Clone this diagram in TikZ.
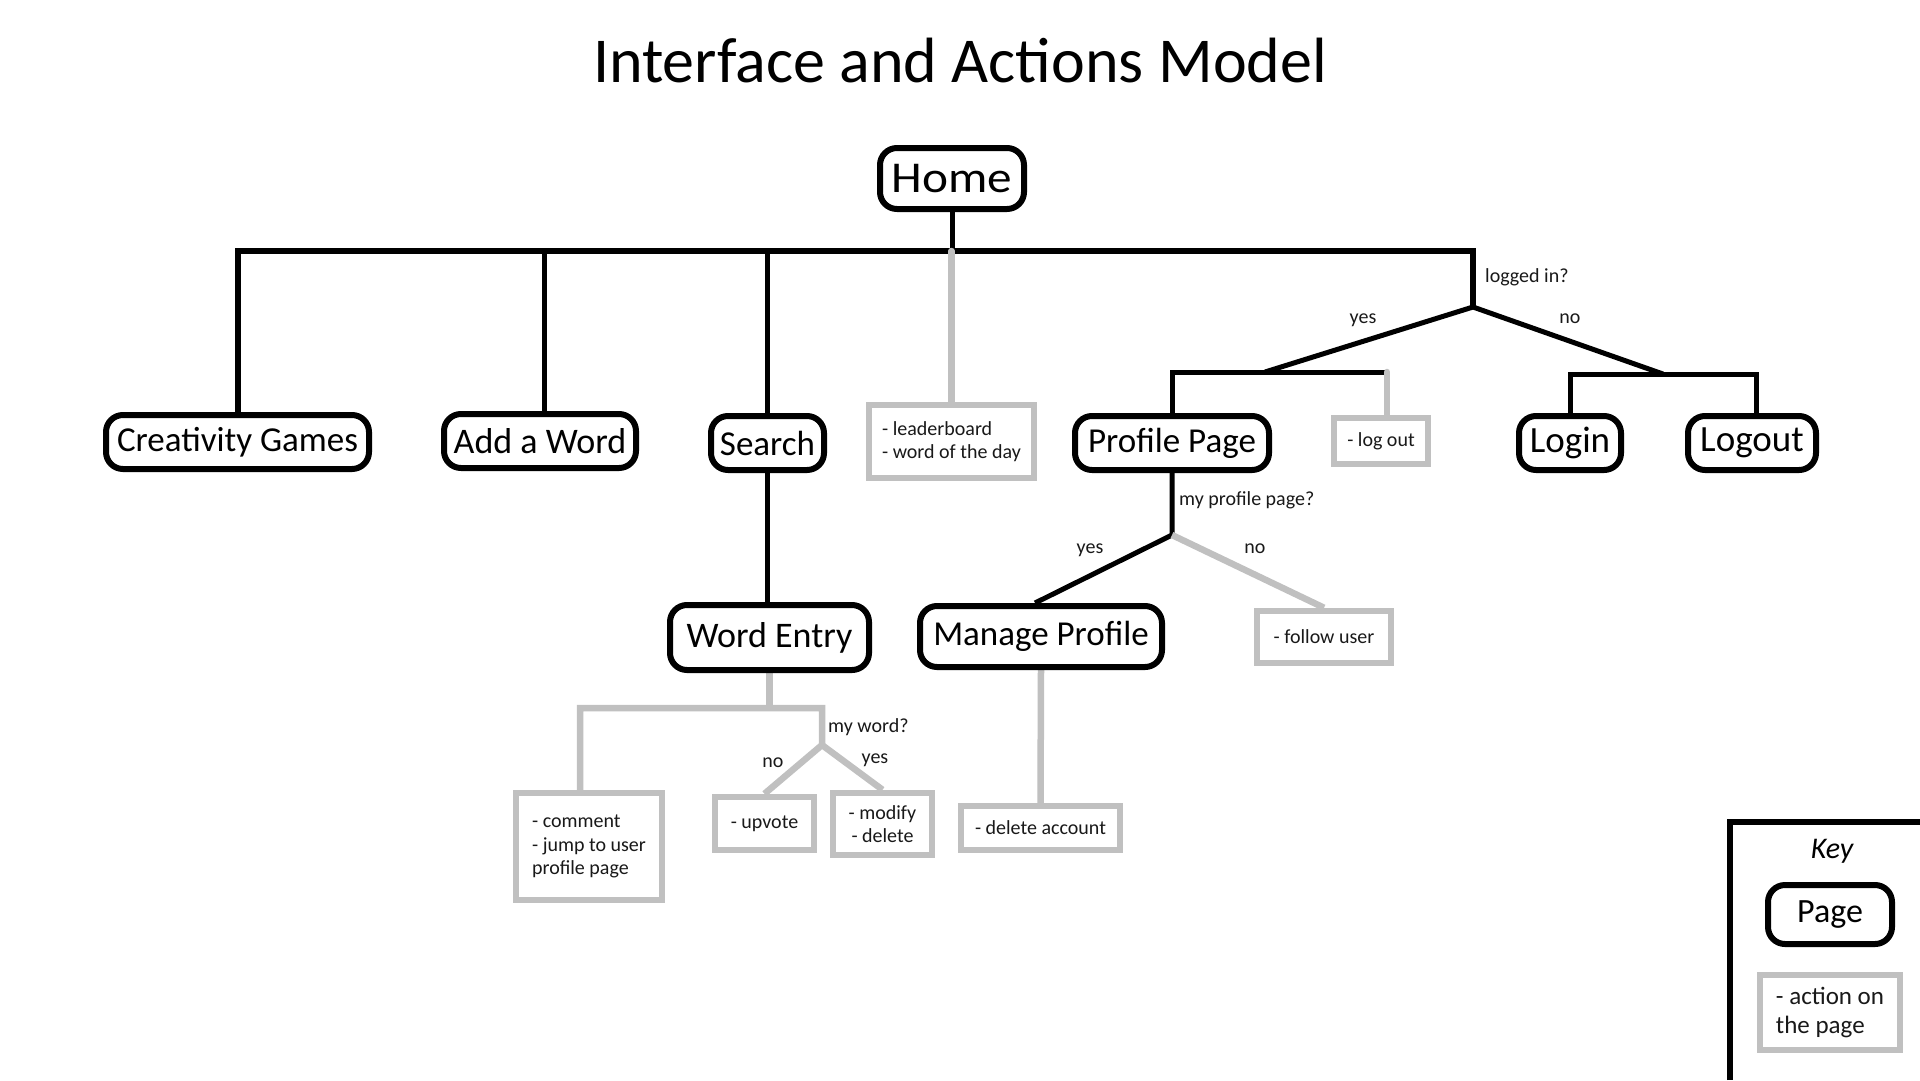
\documentclass[tikz,border=0pt]{standalone}
\usepackage{fontspec}
\setmainfont{Carlito}
\usepackage{graphicx}
\usetikzlibrary{calc}
\definecolor{lgray}{RGB}{192,192,192}
\definecolor{txt}{RGB}{25,25,25}
\newcommand{\fsz}[2]{\fontsize{#1}{#2}\selectfont}
\pgfdeclarelayer{background}
\pgfsetlayers{background,main}
\tikzset{
  pagebox/.style={draw=black, line width=6pt, rounded corners=17pt, fill=white, inner sep=0pt, text=black, font=\fsz{35}{40}},
  actbox/.style={draw=lgray, line width=6.5pt, fill=white, inner sep=0pt, align=left, font=\fsz{20}{23.5}, text=txt},
  actboxc/.style={actbox, align=center},
  blk/.style={draw=black, line width=5pt},
  barline/.style={draw=black, line width=6pt},
  gln/.style={draw=lgray, line width=6.5pt},
  gcap/.style={gln, line cap=round},
  lbl/.style={font=\fsz{20}{24}, inner sep=0pt, text=txt},
}
\begin{document}
\begin{tikzpicture}[x=1pt,y=-1pt]
\useasboundingbox (0,0) rectangle (1920,1080);

% title
\node[anchor=base, font=\fsz{64}{70}, inner sep=0pt] (title) at (960,82) {Interface and Actions Model};

% pages
\node[pagebox, minimum width=144, minimum height=61, font=\fsz{44}{50}] (home) at (952,178.5) {\scalebox{1.12}[1]{Home}};
\node[pagebox, minimum width=263, minimum height=54] (crea) at (237.5,442) {Creativity Games};
\node[pagebox, minimum width=192, minimum height=54, font=\fsz{36}{40}] (addw) at (540,441) {Add a Word};
\node[pagebox, minimum width=113, minimum height=54] (srch) at (767.5,443) {Search};
\node[pagebox, minimum width=194, minimum height=54] (prof) at (1172,443) {Profile Page};
\node[pagebox, minimum width=102, minimum height=54, font=\fsz{37}{40}] (login) at (1570,443) {Login};
\node[pagebox, minimum width=128, minimum height=54, font=\fsz{37}{40}] (logout) at (1752,443) {Logout};
\node[pagebox, minimum width=199, minimum height=65, font=\fsz{36}{40}] (went) at (769.5,637.5) {Word Entry};
\node[pagebox, minimum width=242, minimum height=61] (mp) at (1041,636.5) {Manage Profile};

% actions
\node[actbox, minimum width=165, minimum height=73] (lead) at (951.5,441.5) {- leaderboard\\- word of the day};
\node[actbox, minimum width=94, minimum height=46] (lout) at (1381,441) {- log out};
\node[actbox, minimum width=134, minimum height=52] (fu) at (1324,637) {- follow user};
\node[actbox, minimum width=146, minimum height=107] (cmt) at (589,846.5) {- comment\\- jump to user\\profile page};
\node[actbox, minimum width=99, minimum height=53] (upv) at (764.5,823.5) {- upvote};
\node[actboxc, minimum width=99, minimum height=62] (mod) at (882.5,824) {- modify\\- delete};
\node[actbox, minimum width=159, minimum height=44] (da) at (1040.5,828) {- delete account};

% labels
\node[lbl, anchor=base west] (lq1) at (1485,282) {logged in?};
\node[lbl, anchor=base] (ly1) at (1363,323) {yes};
\node[lbl, anchor=base] (ln1) at (1570,323) {no};
\node[lbl, anchor=base west] (lq2) at (1179,505) {my profile page?};
\node[lbl, anchor=base] (ly2) at (1090,553) {yes};
\node[lbl, anchor=base] (ln2) at (1255,553) {no};
\node[lbl, anchor=base west] (lq3) at (828,732) {my word?};
\node[lbl, anchor=base] (ln3) at (773,767) {no};
\node[lbl, anchor=base] (ly3) at (875,763) {yes};

% junction coordinates
\coordinate (barR) at (1473,251);
\coordinate (li) at (1473,307);
\coordinate (yd) at (1265,372);
\coordinate (ybR) at (1387,372);
\coordinate (nd) at (1663,374);
\coordinate (nbR) at (1756,374);
\coordinate (pq) at (1172,535);
\coordinate (wl) at (580,708);
\coordinate (wr) at (822,708);
\coordinate (wq) at (822,745);

\begin{pgfonlayer}{background}
\fill[white] (0,0) rectangle (1920,1080);
\draw[barline] (crea.north) |- (barR) -- (li);
\draw[blk] (home.south) -- (home.south |- barR);
\draw[blk] ($(addw.north)+(4,0)$) -- ($(addw.north |- barR)+(4,0)$);
\draw[blk] (srch.north) -- (srch.north |- barR);
\draw[gcap] (lead.north |- barR) -- (lead.north);
\draw[blk] (li) -- (yd);
\draw[blk] (li) -- (nd);
\draw[blk] (prof.north) |- (ybR);
\draw[gcap] (ybR) -- (ybR |- lout.north);
\draw[blk] (login.north) |- (nbR) -- (nbR |- logout.north);
\draw[blk] (srch.south) -- (srch.south |- went.north);
\draw[blk] (prof.south) -- (pq) -- ($(mp.north)+(-6,0)$);
\draw[gln] (pq) -- (fu.north);
\draw[gln] (mp.south) -- (da.north);
\draw[gln] (went.south) -- (went.south |- wl);
\draw[gln] (wl |- cmt.north) |- (wr) -- (wq) -- (upv.north);
\draw[gln] (wq) -- (mod.north);
\end{pgfonlayer}

% key
\draw[line width=6.5pt] (1730,1080) |- (1920,822);
\node[font=\itshape\fsz{30}{34}, anchor=base, inner sep=0pt] (keyt) at (1832,858) {Key};
\node[pagebox, minimum width=124, minimum height=59, font=\fsz{34}{40}] (kpage) at (1830,914.5) {Page};
\node[actbox, minimum width=140, minimum height=75, font=\fsz{25}{29}] (kact) at (1830,1012.5) {- action on\\the page};
\end{tikzpicture}
\end{document}
